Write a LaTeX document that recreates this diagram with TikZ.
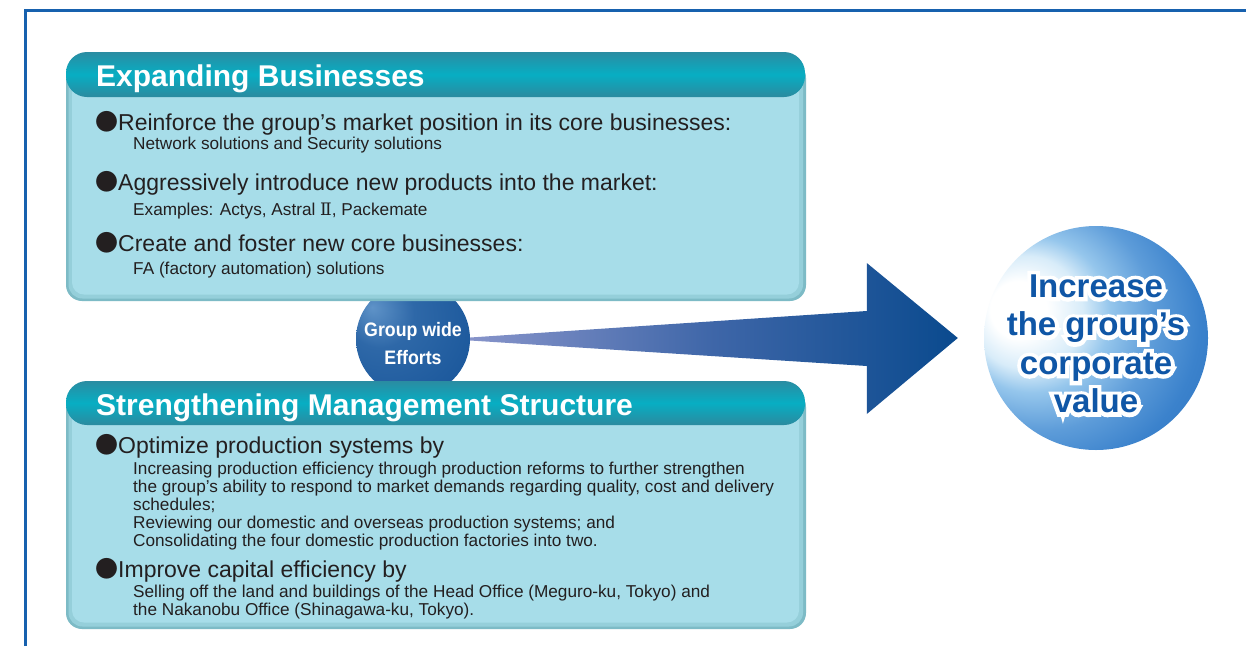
\documentclass[tikz,border=0pt]{standalone}
\usepackage{fontspec}
\setmainfont{Liberation Sans}
\newfontfamily\cjk{Noto Sans CJK JP}
\newfontfamily\romnum{DejaVu Serif}
\newfontface\halofont[FakeBold=24]{Liberation Sans Bold}
\newfontface\narrowbold[FakeStretch=0.91]{Liberation Sans Bold}
\usetikzlibrary{calc}
\definecolor{frameblue}{HTML}{1761AE}
\definecolor{bodyc}{HTML}{A7DDE9}
\definecolor{bodymid}{HTML}{95CFDA}
\definecolor{bodyedge}{HTML}{7DBBC6}
\definecolor{headtop}{HTML}{2A8CA2}
\definecolor{headmid}{HTML}{07AEC3}
\definecolor{headbot}{HTML}{2B8A9F}
\definecolor{txt}{HTML}{231F20}
\definecolor{arrL}{HTML}{8794CA}
\definecolor{arrM}{HTML}{3E66A8}
\definecolor{arrR}{HTML}{0A4A8E}
\definecolor{goalblue}{HTML}{0F56A6}
\definecolor{bbA}{HTML}{FFFFFF}
\definecolor{bbB}{HTML}{D8ECF9}
\definecolor{bbC}{HTML}{95C6EC}
\definecolor{bbD}{HTML}{5D9CD9}
\definecolor{bbE}{HTML}{3B82CC}
\definecolor{bbF}{HTML}{2A70BD}
\definecolor{bbG}{HTML}{1C64B2}
\definecolor{sbA}{HTML}{5F93C8}
\definecolor{sbB}{HTML}{2E68A8}
\definecolor{sbC}{HTML}{1A579B}
\definecolor{sbD}{HTML}{0C4D96}
\pgfdeclareradialshading{bigball}{\pgfpoint{-19bp}{7bp}}{color(0bp)=(bbA); color(6.3bp)=(bbA); color(12.6bp)=(bbB); color(17.4bp)=(bbC); color(25.2bp)=(bbD); color(33.1bp)=(bbE); color(44.2bp)=(bbF); color(53.6bp)=(bbG); color(70bp)=(bbG)}
\pgfdeclareradialshading{smallball}{\pgfpoint{-18bp}{14bp}}{color(0bp)=(sbA); color(15bp)=(sbB); color(40bp)=(sbC); color(75bp)=(sbD)}
\newcommand\blt{{\cjk ●}}
\tikzset{
  bultext/.style={anchor=base west, inner sep=0pt, font=\fontsize{23}{27}\selectfont, text=txt},
  subtext/.style={anchor=base west, inner sep=0pt, font=\fontsize{17.2}{18}\selectfont, text=txt},
  headtext/.style={anchor=base west, inner sep=0pt, font=\fontsize{30}{34}\selectfont\bfseries, text=white},
  goalfont/.style={align=center, inner sep=0pt, font=\fontsize{33}{38.5}\selectfont\bfseries},
}
\begin{document}
\begin{tikzpicture}[x=1pt,y=-1pt]
\useasboundingbox (0,0) rectangle (1246,646);
\fill[white] (0,0) rectangle (1246,646);
% frame
\draw[frameblue, line width=3pt, line join=miter] (25,646) -- (25,10.5) -- (1246,10.5);
% small ball (behind panels)
\node[circle, minimum size=114pt, inner sep=0pt, shading=smallball] (gw) at (413,339) {};
% top panel
\fill[bodyedge, rounded corners=16pt] (66,62) rectangle (806,301);
\fill[bodymid, rounded corners=14pt] (68.5,62) rectangle (803,298.5);
\fill[bodyc, rounded corners=12pt] (72,62) rectangle (799,294.5);
\shade[rounded corners=21pt, top color=headtop, bottom color=headbot, middle color=headmid] (66,52) rectangle (805,97);
% bottom panel
\fill[bodyedge, rounded corners=16pt] (66,391) rectangle (806,629);
\fill[bodymid, rounded corners=14pt] (68.5,391) rectangle (803,626.5);
\fill[bodyc, rounded corners=12pt] (72,391) rectangle (799,622.5);
\shade[rounded corners=21pt, top color=headtop, bottom color=headbot, middle color=headmid] (66,381) rectangle (805,425);
% goal ball
\node[circle, minimum size=224pt, inner sep=0pt, shading=bigball] (goal) at (1096,338) {};
% arrow from gw to goal
\coordinate (tail) at (gw.east);
\coordinate (tip) at ($(goal.west)+(-26,0)$);
\shade[left color=arrL, right color=arrR, middle color=arrM]
  ($(tail)+(0,-1.5)$) -- ($(tip)+(-91,-27)$) -- ($(tip)+(-91,-75)$) -- (tip)
  -- ($(tip)+(-91,76)$) -- ($(tip)+(-91,28)$) -- ($(tail)+(0,1.5)$) -- cycle;
% texts
\node[align=center, inner sep=0pt, text=white, font=\fontsize{19.5}{28}\narrowbold] (gwtext) at ($(gw.center)+(0,5)$) {Group wide\\Efforts};
\node[goalfont, text=white, font=\fontsize{33}{38.5}\halofont] (goalhalo) at ($(goal.center)+(0,6)$) {Increase\\the group’s\\corporate\\value};
\node[goalfont, text=goalblue] (goaltext) at ($(goal.center)+(0,6)$) {Increase\\the group’s\\corporate\\value};
\node[headtext] (h1) at (96,86) {Expanding Businesses};
\node[bultext] (b1) at (95,130) {\blt Reinforce the group’s market position in its core businesses:};
\node[subtext] (s1) at (133,149) {Network solutions and Security solutions};
\node[bultext] (b2) at (95,190) {\blt Aggressively introduce new products into the market:};
\node[subtext] (s2) at (133,215) {Examples: Actys, Astral {\romnum Ⅱ}, Packemate};
\node[bultext] (b3) at (95,251) {\blt Create and foster new core businesses:};
\node[subtext] (s3) at (133,274) {FA (factory automation) solutions};
\node[headtext] (h2) at (96,415) {Strengthening Management Structure};
\node[bultext] (b4) at (95,453) {\blt Optimize production systems by};
\node[subtext] (s4a) at (133,474) {Increasing production efficiency through production reforms to further strengthen};
\node[subtext] (s4b) at (133,492) {the group’s ability to respond to market demands regarding quality, cost and delivery};
\node[subtext] (s4c) at (133,510) {schedules;};
\node[subtext] (s4d) at (133,528) {Reviewing our domestic and overseas production systems; and};
\node[subtext] (s4e) at (133,546) {Consolidating the four domestic production factories into two.};
\node[bultext] (b5) at (95,577) {\blt Improve capital efficiency by};
\node[subtext] (s5a) at (133,597) {Selling off the land and buildings of the Head Office (Meguro-ku, Tokyo) and};
\node[subtext] (s5b) at (133,615) {the Nakanobu Office (Shinagawa-ku, Tokyo).};
\end{tikzpicture}
\end{document}
